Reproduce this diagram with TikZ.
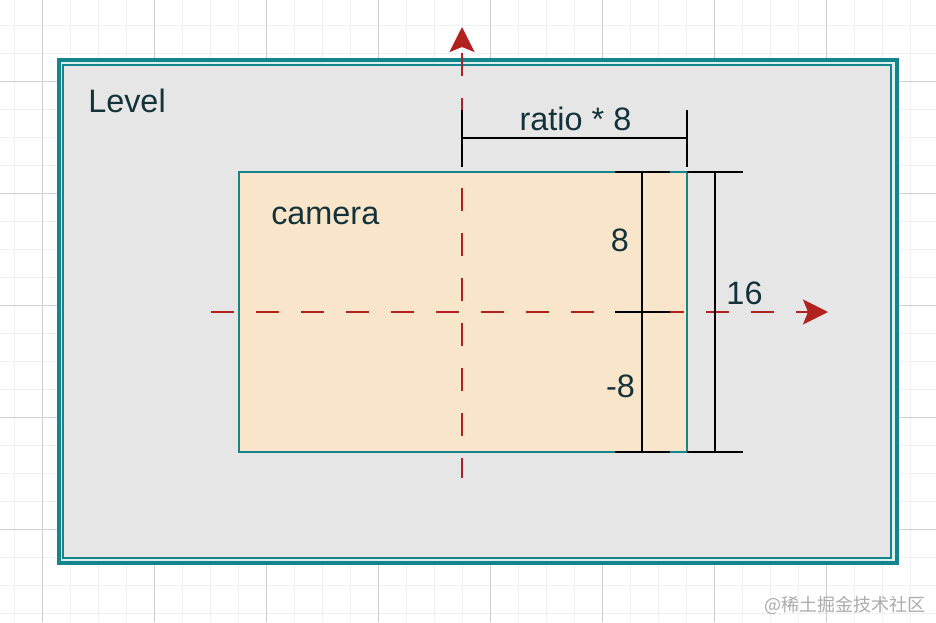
\documentclass[tikz,border=0pt]{standalone}
\usepackage{fontspec}
\setmainfont{Liberation Sans}
\newfontfamily\cjkfont{Noto Sans CJK SC}
\usetikzlibrary{arrows.meta}
\definecolor{levelteal}{HTML}{12868C}
\definecolor{levelgap}{HTML}{DCEFEF}
\definecolor{levelfill}{HTML}{E6E6E6}
\definecolor{camfill}{HTML}{F9E5C9}
\definecolor{axisred}{HTML}{B0211F}
\definecolor{labelink}{HTML}{13323A}
\definecolor{gridmajor}{HTML}{CFCFCF}
\definecolor{gridminor}{HTML}{F0F0F0}
\definecolor{markgrey}{HTML}{ABABAB}

\begin{document}
\begin{tikzpicture}[x=0.75pt,y=-0.75pt,
  minorline/.style={draw=gridminor,line width=0.75pt},
  majorline/.style={draw=gridmajor,line width=0.6pt},
  redaxis/.style={draw=axisred,line width=1.9pt,
                  dash pattern=on 17.25pt off 16.5pt,
                  -{Stealth[length=18.75pt,width=18.75pt,inset=3.75pt]}},
  dimline/.style={draw=black,line width=1.9pt},
  lbl/.style={text=labelink,font=\fontsize{24.3}{28}\selectfont,inner sep=0pt}]
  \useasboundingbox[fill=white] (0,0) rectangle (936,622);
  % background grid of the editor
  \foreach \x in {14,42,...,936} \draw[minorline] (\x,0) -- (\x,622);
  \foreach \y in {25,53,...,622} \draw[minorline] (0,\y) -- (936,\y);
  \foreach \x in {42,154,...,936} \draw[majorline] (\x,0) -- (\x,622);
  \foreach \y in {81,193,...,622} \draw[majorline] (0,\y) -- (936,\y);

  % the level, with its double frame
  \node[draw=levelteal,line width=3pt,fill=levelgap,inner sep=0pt,
        minimum width=628.7pt,minimum height=377.3pt] (level) at (477.9,311.5) {};
  \node[draw=levelteal,line width=1.3pt,fill=levelfill,inner sep=0pt,
        minimum width=620.9pt,minimum height=369.8pt] (levelin) at (477.1,311.2) {};
  \node[lbl,anchor=base west] (levelname) at (88,112) {Level};

  % the camera
  \node[draw=levelteal,line width=2pt,fill=camfill,inner sep=0pt,
        minimum width=335.8pt,minimum height=210pt] (camera) at (463,312) {};
  \node[lbl,anchor=base west] (camname) at (271,224.5) {camera};

  % axes through the camera centre
  \coordinate (xl) at (211,312);
  \coordinate (xr) at (828,312);
  \coordinate (yb) at (462,478);
  \coordinate (yt) at (462,27);
  \draw[redaxis] (xl) -- (xr);
  \draw[redaxis,dash phase=2.25pt] (yb) -- (yt);

  % width: ratio * 8
  \coordinate (wl) at (462,138);
  \coordinate (wr) at (687,138);
  \draw[dimline] (462,110) -- (462,167) (687,110) -- (687,167);
  \draw[dimline] (wl) -- (wr);
  \node[lbl,anchor=base] (wlbl) at (575.5,130) {ratio * 8};

  % half heights: 8 and -8
  \coordinate (ht) at (642,172);
  \coordinate (hb) at (642,452);
  \draw[dimline] (ht) -- (hb);
  \foreach \y in {172,312,452} \draw[dimline] (615,\y) -- (670,\y);
  \node[lbl,anchor=base] (uplbl) at (620,251) {8};
  \node[lbl,anchor=base] (downlbl) at (620.5,397) {-8};

  % full height: 16
  \coordinate (ft) at (715,172);
  \coordinate (fb) at (715,452);
  \draw[dimline] (ft) -- (fb);
  \foreach \y in {172,452} \draw[dimline] (687,\y) -- (743,\y);
  \node[lbl,anchor=base] (fulllbl) at (744.5,304) {16};

  \node[text=markgrey,font=\cjkfont\fontsize{13.5}{16}\selectfont,
        anchor=east,inner sep=0pt] (mark) at (926,605) {@稀土掘金技术社区};
\end{tikzpicture}
\end{document}
